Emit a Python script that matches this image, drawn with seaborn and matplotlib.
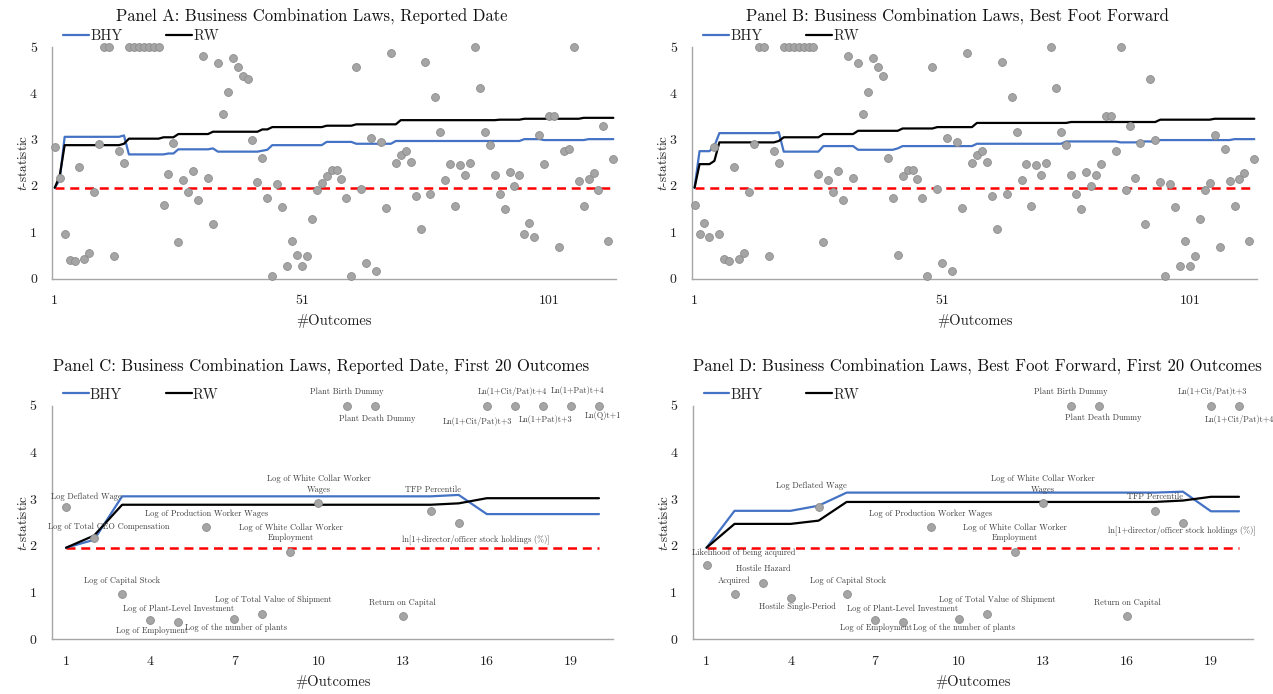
import matplotlib
matplotlib.use("Agg")
import matplotlib.pyplot as plt
import seaborn as sns
import pandas as pd

sns.set_theme(style="white")
plt.rcParams['font.family'] = ['cmr10', 'DejaVu Serif']
plt.rcParams['mathtext.fontset'] = 'cm'
plt.rcParams['axes.unicode_minus'] = False

# ---------------- data ----------------
# Panel A: t-statistics in reported order (values above 5 capped at 5)
tstat_A = [2.83, 2.17, 0.96, 0.41, 0.38, 2.40, 0.43, 0.55, 1.87, 2.91,
           5.00, 5.00, 0.49, 2.75, 2.50, 5.00, 5.00, 5.00, 5.00, 5.00,
           5.00, 5.00, 1.59, 2.25, 2.93, 0.78, 2.12, 1.87, 2.33, 1.69,
           4.81, 2.17, 1.17, 4.65, 3.55, 4.02, 4.76, 4.57, 4.37, 4.30,
           3.00, 2.08, 2.60, 1.73, 0.06, 2.04, 1.54, 0.27, 0.81, 0.51,
           0.28, 0.48, 1.28, 1.92, 2.06, 2.21, 2.35, 2.35, 2.14, 1.73,
           0.06, 4.57, 1.94, 0.34, 3.03, 0.16, 2.94, 1.53, 4.86, 2.50,
           2.67, 2.76, 2.52, 1.79, 1.07, 4.68, 1.83, 3.92, 3.17, 2.12,
           2.47, 1.56, 2.45, 2.24, 2.50, 5.00, 4.12, 3.17, 2.88, 2.24,
           1.83, 1.50, 2.29, 1.99, 2.24, 0.97, 1.20, 0.89, 3.09, 2.47,
           3.51, 3.51, 0.68, 2.75, 2.80, 5.00, 2.11, 1.56, 2.15, 2.28,
           1.91, 3.29, 0.80, 2.58]
bhy_A = ([1.96, 2.13] + [3.06] * 12 + [3.09] + [2.68] * 8 + [2.70] * 2 +
         [2.79] * 7 + [2.81] + [2.74] * 9 + [2.76, 2.78] + [2.88] * 11 +
         [2.95] * 6 + [2.91] * 8 + [2.97] * 26 + [3.01] * 4 + [2.99] * 9 +
         [3.01] * 6)
rw_A = ([1.96, 2.22] + [2.88] * 12 + [2.91] + [3.02] * 7 + [3.05] * 3 +
        [3.12] * 7 + [3.17] * 10 + [3.22] * 2 + [3.27] * 11 + [3.30] * 6 +
        [3.33] * 9 + [3.42] * 20 + [3.43] * 5 + [3.45] * 12 + [3.47] * 7)

# Panel B: best-foot-forward order
tstat_B = [1.59, 0.97, 1.20, 0.89, 2.83, 0.96, 0.42, 0.38, 2.40, 0.43,
           0.55, 1.87, 2.91, 5.00, 5.00, 0.49, 2.75, 2.50, 5.00, 5.00,
           5.00, 5.00, 5.00, 5.00, 5.00, 2.25, 0.78, 2.12, 1.87, 2.33,
           1.69, 4.81, 2.17, 4.65, 3.55, 4.02, 4.76, 4.57, 4.37, 2.60,
           1.73, 0.51, 2.21, 2.35, 2.35, 2.14, 1.73, 0.06, 4.57, 1.94,
           0.34, 3.03, 0.16, 2.94, 1.53, 4.86, 2.50, 2.67, 2.76, 2.52,
           1.79, 1.07, 4.68, 1.83, 3.92, 3.17, 2.12, 2.47, 1.56, 2.45,
           2.24, 2.50, 5.00, 4.12, 3.17, 2.88, 2.24, 1.83, 1.50, 2.29,
           1.99, 2.24, 2.47, 3.51, 3.51, 2.75, 5.00, 1.91, 3.29, 2.16,
           2.93, 1.17, 4.31, 2.99, 2.09, 0.06, 2.04, 1.54, 0.27, 0.81,
           0.28, 0.48, 1.28, 1.92, 2.06, 3.09, 0.68, 2.80, 2.11, 1.56,
           2.15, 2.28, 0.80, 2.58]
bhy_B = ([1.96] + [2.75] * 3 + [2.86] + [3.14] * 12 + [3.16] + [2.74] * 8 +
         [2.86] * 7 + [2.78] * 8 + [2.81] + [2.86] * 15 + [2.91] * 18 +
         [2.96] * 11 + [2.94] * 4 + [2.96] * 3 + [2.94] + [2.99] * 15 +
         [3.01] * 5)
rw_B = ([1.96] + [2.47] * 3 + [2.54] + [2.94] * 12 + [2.97] + [3.05] * 8 +
        [3.12] * 7 + [3.19] * 9 + [3.24] * 7 + [3.27] * 8 + [3.36] * 19 +
        [3.38] * 18 + [3.43] * 11 + [3.45] * 9)

crit_value = 1.96

# Panels C and D: first 20 outcomes with their names
names_C = ["Log Deflated Wage", "Log of Total CEO Compensation", "Log of Capital Stock",
           "Log of Employment", "Log of Plant-Level Investment",
           "Log of Production Worker Wages", "Log of the number of plants",
           "Log of Total Value of Shipment", "Log of White Collar Worker\nEmployment",
           "Log of White Collar Worker\nWages", "Plant Birth Dummy", "Plant Death Dummy",
           "Return on Capital", "TFP Percentile",
           "ln[1+director/officer stock holdings (%)]", "Ln(1+Cit/Pat)t+3",
           "Ln(1+Cit/Pat)t+4", "Ln(1+Pat)t+3", "Ln(1+Pat)t+4", "Ln(Q)t+1"]
names_D = ["Likelihood of being acquired", "Acquired", "Hostile Hazard",
           "Hostile Single-Period", "Log Deflated Wage", "Log of Capital Stock",
           "Log of Employment", "Log of Plant-Level Investment",
           "Log of Production Worker Wages", "Log of the number of plants",
           "Log of Total Value of Shipment", "Log of White Collar Worker\nEmployment",
           "Log of White Collar Worker\nWages", "Plant Birth Dummy", "Plant Death Dummy",
           "Return on Capital", "TFP Percentile",
           "ln[1+director/officer stock holdings (%)]", "Ln(1+Cit/Pat)t+3",
           "Ln(1+Cit/Pat)t+4"]

titles = ["Panel A: Business Combination Laws, Reported Date",
          "Panel B: Business Combination Laws, Best Foot Forward",
          "Panel C: Business Combination Laws, Reported Date, First 20 Outcomes",
          "Panel D: Business Combination Laws, Best Foot Forward, First 20 Outcomes"]

# ---------------- layout (pixels) ----------------
W, H = 1273, 694
# label offsets (dx, dy) in pixels, dy positive = up
off_C = [(20, 10), (15, 11), (0, 14), (2, -11), (0, 13), (0, 13), (2, -9), (11, 14),
         (0, 19), (0, 19), (0, 14), (3, -13), (0, 14), (2, 21), (17, -17), (-9, -16),
         (-2, 14), (3, -14), (7, 15), (4, -10)]
off_D = [(37, 12), (0, 13), (1, 14), (7, -9), (-7, 21), (1, 14), (1, -8), (0, 13),
         (0, 13), (5, -9), (11, 14), (0, 19), (0, 19), (0, 14), (4, -12), (0, 14),
         (0, 14), (-1, -8), (1, 14), (0, -14)]

fig = plt.figure(figsize=(W / 100, H / 100), dpi=100)


def px_axes(x0, x1, ytop, ybot):
    return fig.add_axes([x0 / W, 1 - ybot / H, (x1 - x0) / W, (ybot - ytop) / H])


def draw(ax, tvals, bhy, rw, xticks, title, tx, ty, ylab_x, names=None, offs=None):
    n = len(tvals)
    df = pd.DataFrame({"Outcome": list(range(1, n + 1)), "t": tvals,
                       "BHY": bhy, "RW": rw, "crit": [crit_value] * n})
    sns.lineplot(data=df, x="Outcome", y="crit", ax=ax, color="#FF0000", lw=1.8,
                 linestyle=(0, (3.6, 2.3)), zorder=2)
    sns.lineplot(data=df, x="Outcome", y="BHY", ax=ax, color="#4472C4", lw=1.6,
                 label="BHY", zorder=3)
    sns.lineplot(data=df, x="Outcome", y="RW", ax=ax, color="black", lw=1.6,
                 label="RW", zorder=3)
    sns.scatterplot(data=df, x="Outcome", y="t", ax=ax, color="#A5A5A5",
                    edgecolor="#8C8C8C", linewidth=0.6, s=32, zorder=5,
                    clip_on=False, legend=False)
    ax.set_xlim(0.5, n + 0.5)
    ax.set_ylim(0, 5)
    ax.set_yticks(range(6))
    ax.set_yticklabels([str(v) for v in range(6)])
    ax.set_xticks(xticks)
    ax.set_xticklabels([str(v) for v in xticks])
    ax.tick_params(length=0, labelsize=10, colors="#222222")
    ax.tick_params(axis="x", pad=12)
    ax.tick_params(axis="y", pad=11)
    for s in ["top", "right"]:
        ax.spines[s].set_visible(False)
    for s in ["left", "bottom"]:
        ax.spines[s].set_color("#A6A6A6")
        ax.spines[s].set_linewidth(1.0)
    ax.set_xlabel("#Outcomes", fontsize=10.5, color="#222222")
    ax.set_ylabel("$t$-statistic", fontsize=9.5, color="#222222")
    bb = ax.get_position()
    hpx = bb.height * H
    wpx = bb.width * W
    ax.xaxis.set_label_coords(0.5, -36 / hpx)
    ax.yaxis.set_label_coords(-ylab_x / wpx, 0.5)
    h, l = ax.get_legend_handles_labels()
    ax.legend(h, l, ncol=2, loc="center left",
              bbox_to_anchor=(11 / wpx, 1 + 11 / hpx), frameon=False,
              fontsize=10.5, handlelength=1.75, handletextpad=0.1,
              columnspacing=3.0, borderpad=0, borderaxespad=0)
    fig.text(tx / W, 1 - ty / H, title, ha="center", va="center", fontsize=12,
             color="#111111")
    if names is not None:
        for i, (nm, (dx, dy)) in enumerate(zip(names, offs)):
            ax.annotate(nm, (i + 1, tvals[i]), xytext=(dx * 0.72, dy * 0.72),
                        textcoords="offset points", ha="center", va="center",
                        fontsize=6, color="#404040", linespacing=1.35,
                        annotation_clip=False, zorder=6)


axA = px_axes(52.3, 615.8, 47, 278.5)
axB = px_axes(692.1, 1256.8, 47, 278.5)
axC = px_axes(52, 613, 405.7, 639.3)
axD = px_axes(692.5, 1253, 405.7, 639.3)

draw(axA, tstat_A, bhy_A, rw_A, [1, 51, 101], titles[0], 312, 17, 22)
draw(axB, tstat_B, bhy_B, rw_B, [1, 51, 101], titles[1], 957, 17, 22)
draw(axC, tstat_A[:20], bhy_A[:20], rw_A[:20], [1, 4, 7, 10, 13, 16, 19], titles[2],
     321, 367, 22, names_C, off_C)
draw(axD, tstat_B[:20], bhy_B[:20], rw_B[:20], [1, 4, 7, 10, 13, 16, 19], titles[3],
     977, 367, 22, names_D, off_D)

fig.savefig("out.png", dpi=100)
